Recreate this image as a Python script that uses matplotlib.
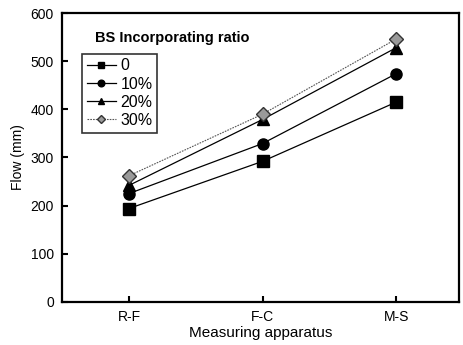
import matplotlib
matplotlib.use("Agg")
import matplotlib.pyplot as plt

plt.rcParams['font.family'] = ['Liberation Sans', 'DejaVu Sans']

apparatus = ["R-F", "F-C", "M-S"]
series_labels = ["0", "10%", "20%", "30%"]
flow_0 = [194, 292, 415]
flow_10 = [225, 329, 474]
flow_20 = [242, 379, 528]
flow_30 = [262, 390, 546]
y_ticks = [0, 100, 200, 300, 400, 500, 600]

fig = plt.figure(figsize=(4.64, 3.45), dpi=100)
ax = fig.add_axes([0.134, 0.125, 0.855, 0.837])

x = list(range(len(apparatus)))
styles = [
    dict(marker='s', color='black', ls='-', lw=0.9, ms=8),
    dict(marker='o', color='black', ls='-', lw=0.9, ms=8),
    dict(marker='^', color='black', ls='-', lw=0.9, ms=8),
    dict(marker='D', color='#555555', ls=(0, (1.5, 1.0)), lw=0.8, ms=7,
         markerfacecolor='#9a9a9a', markeredgecolor='#333333'),
]
for vals, lab, st in zip([flow_0, flow_10, flow_20, flow_30], series_labels, styles):
    ax.plot(x, vals, label=lab, **st)

ax.set_xlim(-0.5, 2.47)
ax.set_ylim(0, 600)
ax.set_xticks(x)
ax.set_xticklabels(apparatus)
ax.set_yticks(y_ticks)
ax.tick_params(axis='x', direction='in', length=4, width=1.5, labelsize=10, pad=6)
ax.tick_params(axis='y', direction='in', length=4, width=1.5, labelsize=10, pad=6)
for sp in ax.spines.values():
    sp.set_linewidth(1.6)

ax.set_xlabel("Measuring apparatus", fontsize=11, labelpad=1)
ax.set_ylabel("Flow (mm)", fontsize=10, labelpad=4)

ax.text(0.083, 0.915, "BS Incorporating ratio", transform=ax.transAxes,
        fontsize=10.5, fontweight='bold', va='center', ha='left')

leg = ax.legend(loc='upper left', bbox_to_anchor=(0.05, 0.86), fontsize=11.5,
                frameon=True, fancybox=False, edgecolor='black',
                handlelength=1.8, handletextpad=0.3, labelspacing=0.2,
                borderpad=0.3, borderaxespad=0.0, markerscale=0.6)
leg.get_frame().set_linewidth(1.2)

fig.savefig("out.png", dpi=100)
